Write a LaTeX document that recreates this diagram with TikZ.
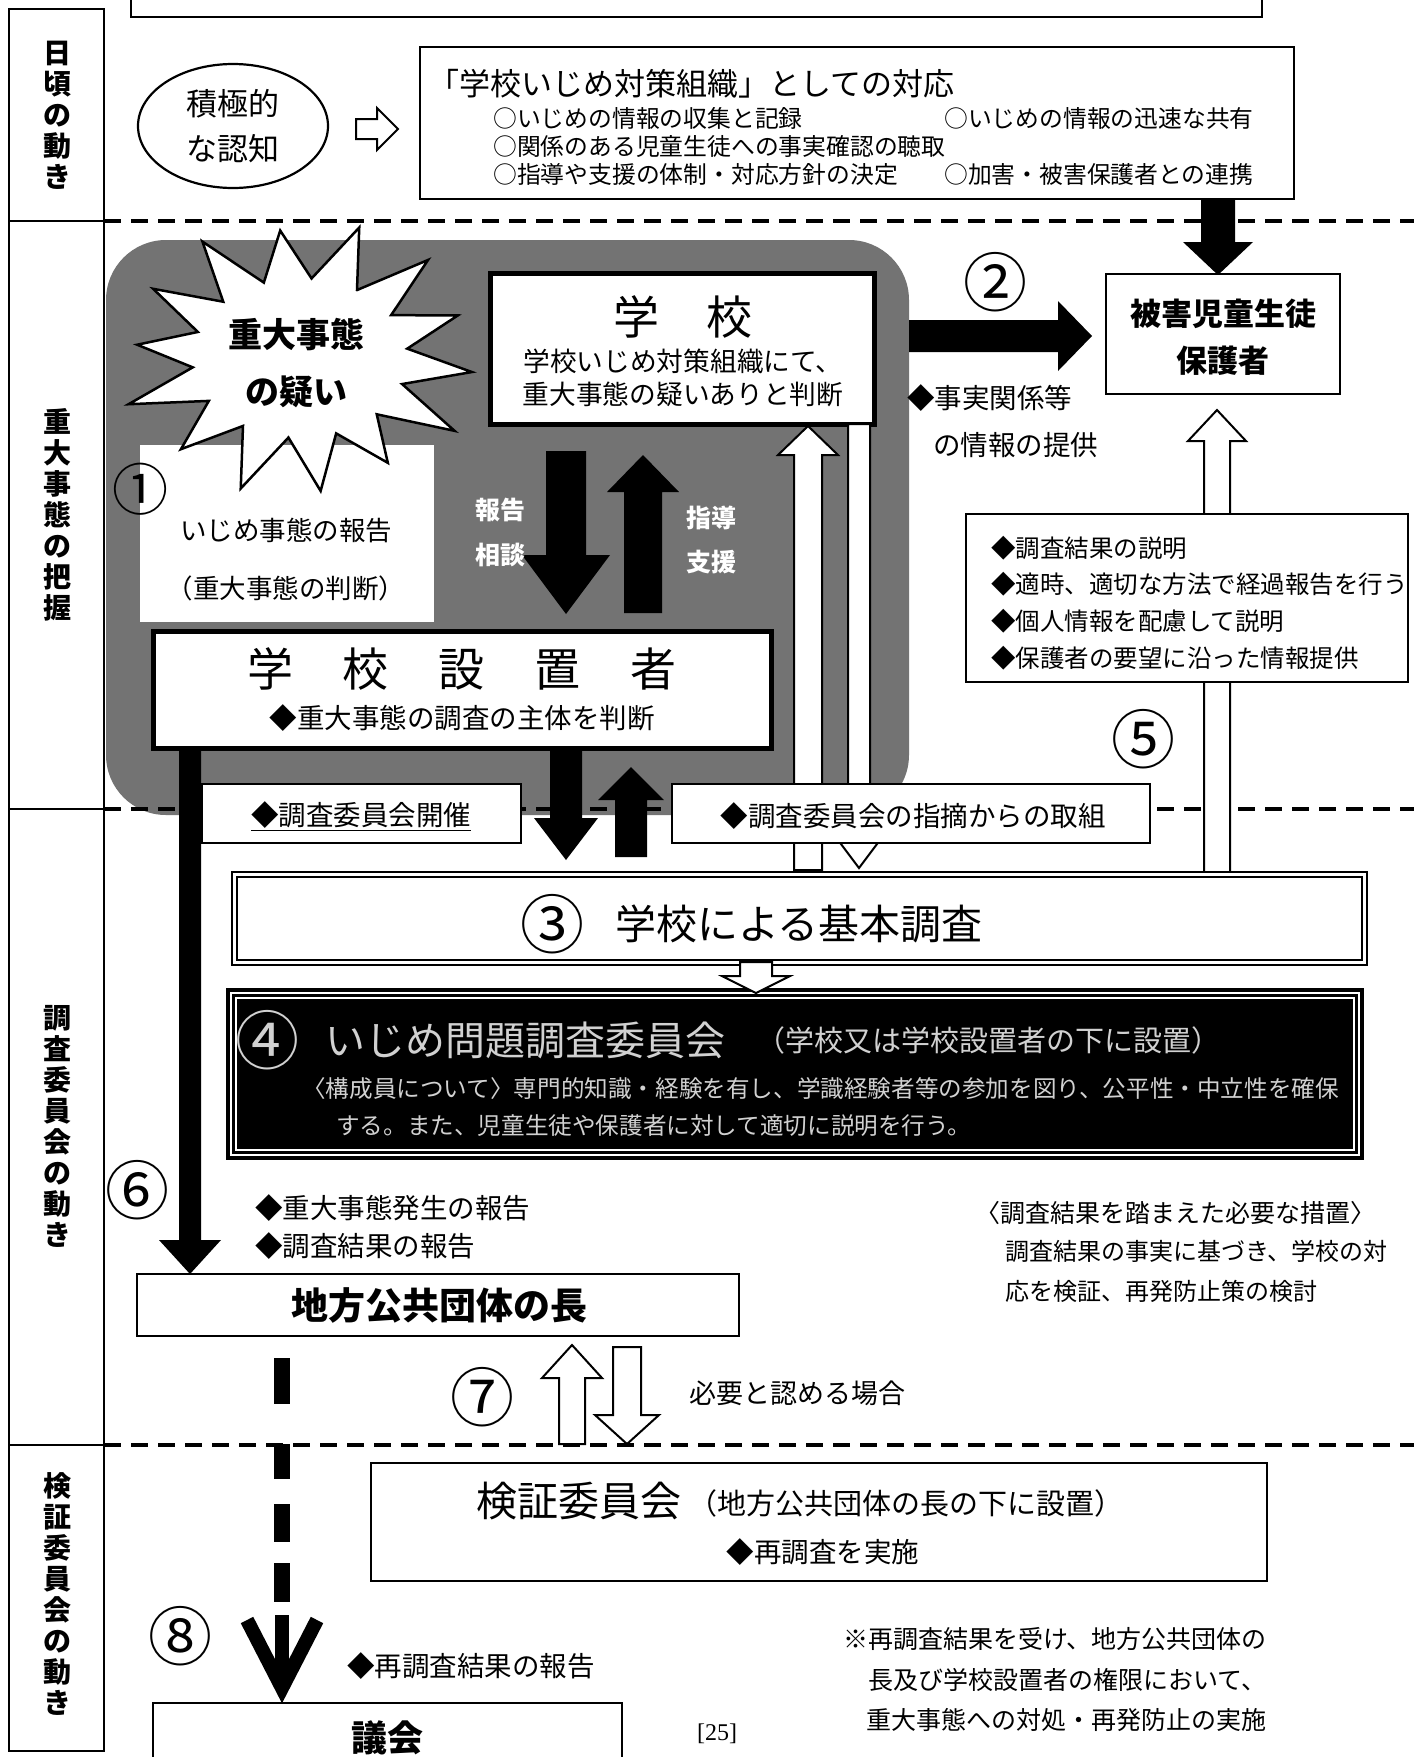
\documentclass[tikz,border=0pt]{standalone}
\usepackage{fontspec}
\setmainfont{Noto Sans CJK JP}
\newfontfamily\serifnum{Liberation Serif}
\newcommand\fsz[1]{\fontsize{#1}{#1}\selectfont}
% vertical block arrow: style, cx, ytail, ybase, ytip, shaft half width, head half width
\newcommand\BV[7]{\path[#1] ({#2-#6},#3) -- ({#2-#6},#4) -- ({#2-#7},#4) -- (#2,#5) -- ({#2+#7},#4) -- ({#2+#6},#4) -- ({#2+#6},#3) -- cycle;}
% horizontal block arrow: style, cy, xtail, xbase, xtip, shaft half width, head half width
\newcommand\BH[7]{\path[#1] (#3,{#2-#6}) -- (#4,{#2-#6}) -- (#4,{#2-#7}) -- (#5,#2) -- (#4,{#2+#7}) -- (#4,{#2+#6}) -- (#3,{#2+#6}) -- cycle;}
\begin{document}
\begin{tikzpicture}[x=1pt,y=-1pt,
  solidarrow/.style={fill=black},
  hollowarrow/.style={draw=black,fill=white,line width=2pt,line join=miter},
  box/.style={draw=black,fill=white,line width=2pt},
  thickbox/.style={draw=black,fill=white,line width=5pt},
  txt/.style={inner sep=0pt},
  circnum/.style={inner sep=0pt,font=\fsz{64}},
  collabel/.style={inner sep=0pt,align=center,font=\bfseries\fontsize{28}{31}\selectfont},
  dashln/.style={line width=3.5pt,dash pattern=on 17pt off 10pt},
  colsep/.style={line width=2pt}]
\useasboundingbox (0,0) rectangle (1414,1757);
\clip (0,0) rectangle (1414,1757);
\fill[white] (0,0) rectangle (1414,1757);

% grey textured region
\fill[black!55, rounded corners=60pt] (106,240) rectangle (909,815);

% dashed separators
\draw[dashln] (104,221) -- (1414,221);
\draw[dashln] (104,809) -- (1414,809);
\draw[dashln] (104,1445) -- (1414,1445);

% left column
\draw[colsep] (9,9) rectangle (104,1751);
\draw[colsep] (9,221) -- (104,221);
\draw[colsep] (9,809) -- (104,809);
\draw[colsep] (9,1445) -- (104,1445);
\node[collabel] (c1) at (57,115) {日\\頃\\の\\動\\き};
\node[collabel] (c2) at (57,515) {重\\大\\事\\態\\の\\把\\握};
\node[collabel] (c3) at (57,1126) {調\\査\\委\\員\\会\\の\\動\\き};
\node[collabel] (c4) at (57,1594) {検\\証\\委\\員\\会\\の\\動\\き};

% top cut box
\draw[box] (131,-10) rectangle (1262,17);

% ellipse
\draw[line width=2.2pt,fill=white] (233,126) ellipse [x radius=95pt,y radius=62pt];
\node[txt,font=\fsz{31}] (nin1) at (233,104) {積極的};
\node[txt,font=\fsz{31}] (nin2) at (233,149) {な認知};
\BH{hollowarrow}{129}{356}{377}{398}{10}{21}

% organisation box
\draw[box] (420,47) rectangle (1294,199);
\node[txt,anchor=west,font=\fsz{31}] (org) at (428,84) {「学校いじめ対策組織」としての対応};
\node[txt,anchor=west,font=\fsz{23.8}] (o1) at (493,118) {○いじめの情報の収集と記録};
\node[txt,anchor=west,font=\fsz{23.8}] (o2) at (944,118) {○いじめの情報の迅速な共有};
\node[txt,anchor=west,font=\fsz{23.8}] (o3) at (493,146) {○関係のある児童生徒への事実確認の聴取};
\node[txt,anchor=west,font=\fsz{23.8}] (o4) at (493,174) {○指導や支援の体制・対応方針の決定};
\node[txt,anchor=west,font=\fsz{23.8}] (o5) at (944,174) {○加害・被害保護者との連携};
\BV{solidarrow}{1218}{199}{242}{275}{17}{35}

% report box (1)
\fill[white] (140,445) rectangle (434,622);
% starburst
\draw[line width=2.5pt,fill=white,line join=miter]
  ({300+108*cos(71-12.857)},{358-80*sin(71-12.857)})
  \foreach \k/\f in {0/1,1/0.93,2/1,3/0.95,4/0.9,5/1,6/0.93,7/1,8/0.97,9/0.9,10/1,11/0.95,12/0.92,13/1}
  { -- ({300+182*\f*cos(71+\k*25.714)},{358-138*\f*sin(71+\k*25.714)})
    -- ({300+108*cos(71+\k*25.714+12.857)},{358-80*sin(71+\k*25.714+12.857)}) } -- cycle;
\node[txt,font=\bfseries\fsz{34}] (s1) at (296,335) {重大事態};
\node[txt,font=\bfseries\fsz{34}] (s2) at (296,392) {の疑い};
\node[txt,font=\fsz{56}] (n1) at (140,489) {①};
\node[txt,font=\fsz{26.5}] (r1) at (286,530) {いじめ事態の報告};
\node[txt,font=\fsz{26.5}] (r2) at (286,588) {（重大事態の判断）};

% school box
\draw[thickbox] (490,273) rectangle (874,424);
\node[txt,font=\fsz{46}] (sch) at (683,317) {学\hspace{48pt}校};
\node[txt,font=\fsz{26.7}] (sch1) at (683,361) {学校いじめ対策組織にて、};
\node[txt,font=\fsz{26.7}] (sch2) at (683,394) {重大事態の疑いありと判断};

% report / guidance arrows
\BV{solidarrow}{566}{451}{555}{614}{20}{44}
\BV{solidarrow}{643}{613}{492}{455}{19}{36}
\node[txt,font=\bfseries\fsz{25},text=white] (h1) at (500,510) {報告};
\node[txt,font=\bfseries\fsz{25},text=white] (h2) at (500,555) {相談};
\node[txt,font=\bfseries\fsz{25},text=white] (g1) at (711,518) {指導};
\node[txt,font=\bfseries\fsz{25},text=white] (g2) at (711,562) {支援};

% (2) arrow and victim box
\BH{solidarrow}{336}{909}{1058}{1092}{16}{35}
\node[circnum] (n2) at (995,282) {②};
\draw[box] (1106,274) rectangle (1340,394);
\node[txt,font=\bfseries\fsz{31}] (v1) at (1223,314) {被害児童生徒};
\node[txt,font=\bfseries\fsz{31}] (v2) at (1223,361) {保護者};
\node[txt,anchor=west,font=\fsz{27.5}] (f1) at (907,398) {◆事実関係等};
\node[txt,anchor=west,font=\fsz{27.5}] (f2) at (933,445) {の情報の提供};

% (5)
\BV{hollowarrow}{1217}{872}{441}{410}{13}{29}
\draw[box] (966,514) rectangle (1408,682);
\node[txt,anchor=west,font=\fsz{24.5}] (e1) at (991,548) {◆調査結果の説明};
\node[txt,anchor=west,font=\fsz{24.5}] (e2) at (991,584) {◆適時、適切な方法で経過報告を行う};
\node[txt,anchor=west,font=\fsz{24.5}] (e3) at (991,621) {◆個人情報を配慮して説明};
\node[txt,anchor=west,font=\fsz{24.5}] (e4) at (991,658) {◆保護者の要望に沿った情報提供};
\node[circnum] (n5) at (1143,739) {⑤};

% hollow arrows between school and basic survey
\BV{hollowarrow}{808}{870}{455}{426}{14}{30}
\BV{hollowarrow}{859}{424}{840}{868}{11}{21}

% school setter
\draw[thickbox] (153,631) rectangle (771,748);
\node[txt,font=\fsz{46}] (set) at (462,669) {学\hspace{50pt}校\hspace{50pt}設\hspace{50pt}置\hspace{50pt}者};
\node[txt,font=\fsz{27.5}] (set1) at (462,718) {◆重大事態の調査の主体を判断};

% (6) thick arrow
\BV{solidarrow}{190}{748}{1240}{1274}{11}{31}

% committee boxes
\draw[box] (202,784) rectangle (521,843);
\node[txt,font=\fsz{27.5}] (kai) at (361,816) {\underline{◆調査委員会開催}};
\BV{solidarrow}{566}{750}{818}{860}{16}{32}
\BV{solidarrow}{631}{857}{800}{767}{16}{33}
\draw[box] (672,784) rectangle (1150,843);
\node[txt,font=\fsz{27.5}] (shi) at (913,816) {◆調査委員会の指摘からの取組};

% (3) basic survey
\draw[box] (232,872) rectangle (1367,965);
\draw[line width=1.5pt] (237,877) rectangle (1362,960);
\node[circnum] (n3) at (552,924) {③};
\node[txt,font=\fsz{41}] (bas) at (799,924) {学校による基本調査};

% (4) committee (dark box)
\fill[black] (226,988) rectangle (1364,1160);
\draw[white,line width=1.3pt] (231,993) rectangle (1359,1155);
\draw[white,line width=1.3pt] (236,998) rectangle (1354,1150);
\BV{hollowarrow}{756}{962}{976}{993}{16}{34}
\node[circnum,text=white!82!black] (n4) at (267,1040) {④};
\node[txt,anchor=west,font=\fsz{40},text=white!82!black] (com) at (325,1040) {いじめ問題調査委員会};
\node[txt,anchor=west,font=\fsz{29},text=white!82!black] (com1) at (756,1040) {（学校又は学校設置者の下に設置）};
\node[txt,anchor=west,font=\fsz{23.6},text=white!82!black] (com2) at (302,1089) {〈構成員について〉専門的知識・経験を有し、学識経験者等の参加を図り、公平性・中立性を確保};
\node[txt,anchor=west,font=\fsz{23.6},text=white!82!black] (com3) at (336,1126) {する。また、児童生徒や保護者に対して適切に説明を行う。};

% (6) labels
\node[circnum] (n6) at (137,1190) {⑥};
\node[txt,anchor=west,font=\fsz{27.5}] (rp1) at (255,1208) {◆重大事態発生の報告};
\node[txt,anchor=west,font=\fsz{27.5}] (rp2) at (255,1246) {◆調査結果の報告};
\node[txt,anchor=west,font=\fsz{25}] (ms0) at (975,1213) {〈調査結果を踏まえた必要な措置〉};
\node[txt,anchor=west,font=\fsz{24}] (ms1) at (1005,1251) {調査結果の事実に基づき、学校の対};
\node[txt,anchor=west,font=\fsz{24}] (ms2) at (1005,1291) {応を検証、再発防止策の検討};

% head of local government
\draw[box] (137,1274) rectangle (739,1336);
\node[txt,font=\bfseries\fsz{37}] (loc) at (439,1305) {地方公共団体の長};

% (7)
\node[circnum] (n7) at (482,1397) {⑦};
\BV{hollowarrow}{572}{1444}{1378}{1345}{13}{30}
\BV{hollowarrow}{627}{1347}{1415}{1444}{14}{32}
\node[txt,anchor=west,font=\fsz{27}] (nec) at (689,1393) {必要と認める場合};

% (8) dashed thick arrow
\fill (274,1358) rectangle (290,1404);
\fill (274,1444) rectangle (290,1479);
\fill (274,1504) rectangle (290,1542);
\fill (274,1563) rectangle (290,1602);
\fill (275,1615) rectangle (289,1690);
\draw[line width=14pt,line join=miter,miter limit=10] (247,1620) -- (282,1688) -- (317,1620);
\node[circnum] (n8) at (180,1636) {⑧};
\node[txt,anchor=west,font=\fsz{27.5}] (rr) at (347,1666) {◆再調査結果の報告};

% verification committee
\draw[box] (371,1463) rectangle (1267,1581);
\node[txt,anchor=west,font=\fsz{41}] (ver) at (476,1501) {検証委員会};
\node[txt,anchor=west,font=\fsz{29}] (ver1) at (688,1503) {（地方公共団体の長の下に設置）};
\node[txt,font=\fsz{27.5}] (ver2) at (823,1552) {◆再調査を実施};

% assembly
\draw[box] (153,1703) rectangle (622,1775);
\node[txt,font=\bfseries\fsz{36}] (gik) at (387,1738) {議会};
\node[txt,font=\serifnum\fsz{24}] (pg) at (717,1734) {[25]};
\node[txt,anchor=west,font=\fsz{25}] (nt1) at (843,1639) {※再調査結果を受け、地方公共団体の};
\node[txt,anchor=west,font=\fsz{25}] (nt2) at (868,1680) {長及び学校設置者の権限において、};
\node[txt,anchor=west,font=\fsz{25}] (nt3) at (866,1720) {重大事態への対処・再発防止の実施};
\end{tikzpicture}
\end{document}
